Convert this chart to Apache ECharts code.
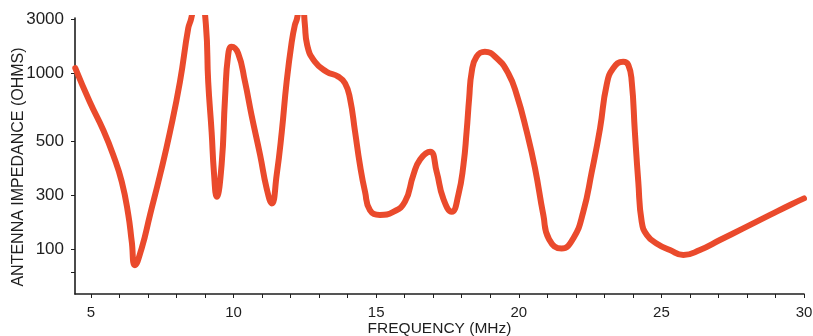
<!DOCTYPE html>
<html>
<head>
<meta charset="utf-8">
<script src="https://cdn.jsdelivr.net/npm/echarts@6/dist/echarts.min.js"></script>
<style>html,body{margin:0;padding:0;background:#fff;}#c{width:813px;height:336px;}</style>
</head>
<body>
<div id="c"></div>
<script>
// Frequency (MHz)
const freq = [4.45, 4.96, 5.43, 5.78, 6.08, 6.31, 6.43, 6.54, 6.78, 7.07, 7.42, 7.77, 8.12, 8.41, 8.51, 8.78,
  9.03, 9.11, 9.23, 9.31, 9.41, 9.58, 9.70, 9.81, 9.93, 10.16, 10.40, 10.63, 10.93, 11.16, 11.34, 11.51, 11.69, 11.86, 12.04, 12.15, 12.22, 12.40,
  12.50, 12.58, 12.85, 13.26, 13.67, 13.91, 14.08, 14.26, 14.43, 14.61, 14.78, 15.13, 15.60, 16.01, 16.30, 16.54, 16.89, 17.12, 17.35, 17.65, 17.88,
  18.06, 18.17, 18.26, 18.35, 18.52, 18.81, 19.23, 19.63, 19.93, 20.28, 20.57, 20.86, 21.06, 21.50, 21.91, 22.26, 22.56, 22.85, 23.08, 23.31, 23.66,
  23.84, 23.96, 24.07, 24.19, 24.31, 24.49, 24.83, 25.30, 25.77, 26.35, 27.05, 27.87, 28.81, 29.51, 30.0];
// Antenna impedance (ohms)
const impedance = [1107, 744, 559, 438, 340, 200, 116, 72, 102, 200, 362, 549, 915, 2483, 3000, 6000,
  2660, 915, 549, 374, 290, 399, 773, 1443, 1707, 1491, 915, 651, 438, 319, 253, 362, 549, 915, 1890, 2660, 3000, 5000,
  2660, 1768, 1258, 1027, 964, 900, 773, 549, 399, 309, 221, 200, 213, 262, 362, 420, 452, 374, 280, 213, 300,
  399, 549, 773, 1027, 1393, 1542, 1349, 997, 799, 549, 386, 200, 122, 101, 124, 213, 374, 570, 885, 1100, 1258,
  1177, 915, 549, 340, 174, 133, 112, 98, 88.5, 98, 120, 152, 200, 245, 280];

// Axis tick labels
const xLabels = [5, 10, 15, 20, 25, 30];
const xMinorTicks = [5,6,7,8,9,10,11,12,13,14,15,16,17,18,19,20,21,22,23,24,25,26,27,28,29,30];
const yTickOhms = [100, 300, 500, 1000, 3000];
// scale position of each labelled impedance on the (non-uniform) printed axis
const yTickPos = [45, 99, 153, 221, 275];
const yExtraTickPos = [22];

function toPos(v) {
  const lv = Math.log10(v);
  const L = yTickOhms.map(Math.log10);
  let i = 0;
  if (lv <= L[0]) i = 0;
  else if (lv >= L[L.length - 1]) i = L.length - 2;
  else { while (!(lv >= L[i] && lv <= L[i + 1])) i++; }
  return yTickPos[i] + (lv - L[i]) / (L[i + 1] - L[i]) * (yTickPos[i + 1] - yTickPos[i]);
}

const data = freq.map((f, i) => [f, toPos(impedance[i])]);
const fontFam = '"Liberation Sans", Arial, sans-serif';
const axisColor = '#1e1e1e';

const chart = echarts.init(document.getElementById('c'), null, {renderer: 'canvas'});
chart.setOption({
  animation: false,
  backgroundColor: '#ffffff',
  grid: {left: 75, right: 9, top: 18, bottom: 42, containLabel: false, outerBoundsMode: 'none'},
  xAxis: {
    type: 'value', min: 4.44, max: 30,
    name: 'FREQUENCY (MHz)', nameLocation: 'middle', nameGap: 27, nameMoveOverlap: false,
    nameTextStyle: {fontFamily: fontFam, fontSize: 15.5, color: axisColor},
    axisLine: {show: true, lineStyle: {color: axisColor, width: 1.6}},
    axisTick: {show: true, length: 4, lineStyle: {color: axisColor, width: 1}, customValues: xMinorTicks},
    axisLabel: {customValues: xLabels, margin: 11, fontFamily: fontFam, fontSize: 15, color: axisColor},
    splitLine: {show: false}
  },
  yAxis: {
    type: 'value', min: 0, max: 276,
    name: 'ANTENNA IMPEDANCE (OHMS)', nameLocation: 'middle', nameGap: 48, nameRotate: 90, nameMoveOverlap: false,
    nameTextStyle: {fontFamily: fontFam, fontSize: 16, color: axisColor, padding: [0, 22, 0, 0]},
    axisLine: {show: true, lineStyle: {color: axisColor, width: 1.6}},
    axisTick: {show: true, length: 4, lineStyle: {color: axisColor, width: 1}, customValues: yExtraTickPos.concat(yTickPos)},
    axisLabel: {
      customValues: yTickPos, margin: 11, fontFamily: fontFam, fontSize: 17, color: axisColor,
      formatter: function (v) {
        let best = 0;
        for (let i = 0; i < yTickPos.length; i++) if (Math.abs(yTickPos[i] - v) < Math.abs(yTickPos[best] - v)) best = i;
        return String(yTickOhms[best]);
      }
    },
    splitLine: {show: false}
  },
  series: [{
    type: 'line',
    data: data,
    smooth: 0.5,
    showSymbol: false,
    clip: true,
    lineStyle: {color: '#ea4a2c', width: 6, cap: 'round', join: 'round'}
  }]
});
</script>
</body>
</html>
